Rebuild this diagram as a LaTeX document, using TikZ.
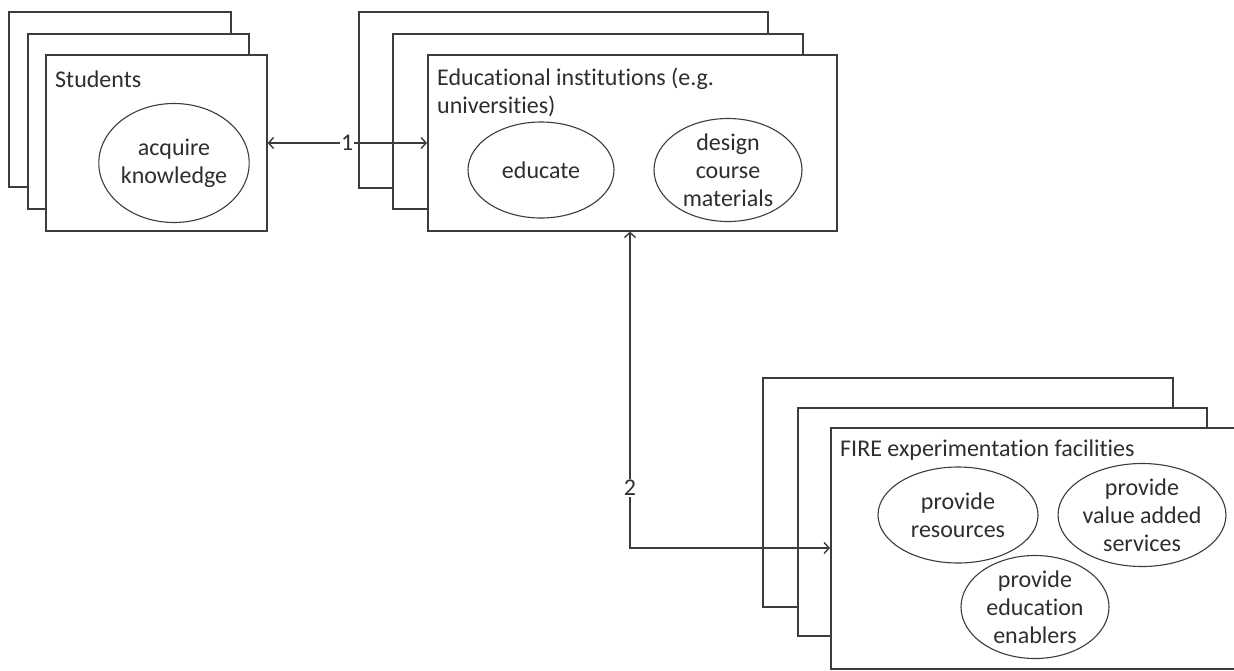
\documentclass[tikz,border=0pt]{standalone}
\usepackage{fontspec}
\setmainfont{Carlito}[Ligatures={NoCommon}]
\usetikzlibrary{arrows.meta,shapes.geometric}
\definecolor{linec}{HTML}{3C3C3C}
\definecolor{txtc}{HTML}{2E2E2E}
\newcommand{\lbl}{\fontsize{24}{28}\selectfont}
\tikzset{
  card/.style={draw=linec, fill=white, line width=1.6pt, rectangle, inner sep=0pt, anchor=north west},
  act/.style={draw=linec, fill=white, ellipse, line width=1.1pt, inner sep=0pt, align=center, text=txtc, font=\lbl},
  ttl/.style={anchor=base west, inner sep=0pt, align=left, text=txtc, font=\lbl},
  link/.style={draw=linec, line width=1.4pt, {Straight Barb[length=5pt,width=11pt]}-{Straight Barb[length=5pt,width=11pt]}},
  num/.style={fill=white, inner sep=1pt, text=txtc, font=\lbl}
}
\begin{document}
\begin{tikzpicture}[x=1pt,y=-1pt]
\useasboundingbox (0,0) rectangle (1234,670);
\begin{scope}
\clip (0,0) rectangle (1234,670);
% Students stack
\node[card, minimum width=222pt, minimum height=175pt] (s1) at (8,11) {};
\node[card, minimum width=221pt, minimum height=175pt] (s2) at (27,33) {};
\node[card, minimum width=221pt, minimum height=176pt] (s3) at (45,54) {};
\node[ttl] (ts) at (55,87) {Students};
\node[act, minimum width=148pt, minimum height=119pt] (acq) at (174,163) {acquire\\knowledge};
% Educational institutions stack
\node[card, minimum width=409pt, minimum height=176pt] (e1) at (358,11) {};
\node[card, minimum width=410pt, minimum height=175pt] (e2) at (392,33) {};
\node[card, minimum width=409pt, minimum height=176pt] (e3) at (427,54) {};
\node[ttl] (te) at (437,113) {Educational institutions (e.g.\\universities)};
\node[act, minimum width=146pt, minimum height=96pt] (edu) at (541,170) {educate};
\node[act, minimum width=148pt, minimum height=96pt] (des) at (728,170) {design\\course\\materials};
% FIRE stack
\node[card, minimum width=410pt, minimum height=229pt] (f1) at (762,377) {};
\node[card, minimum width=409pt, minimum height=228pt] (f2) at (797,407) {};
\node[card, minimum width=412pt, minimum height=241pt] (f3) at (830,427) {};
\node[ttl] (tf) at (840,456) {FIRE experimentation facilities};
\node[act, minimum width=160pt, minimum height=96pt] (res) at (958,515) {provide\\resources};
\node[act, minimum width=160pt, minimum height=96pt] (val) at (1142,515) {provide\\value added\\services};
\node[act, minimum width=148pt, minimum height=98pt] (ena) at (1035,607) {provide\\education\\enablers};
% connectors
\coordinate (a1) at (0,143);
\coordinate (b2) at (630,548);
\draw[link] (s3.east |- a1) -- node[num]{1} (e3.west |- a1);
\draw[link] (e3.south -| b2) -- node[num, pos=0.81]{2} (b2) -- (f3.west |- b2);
\end{scope}
\end{tikzpicture}
\end{document}
